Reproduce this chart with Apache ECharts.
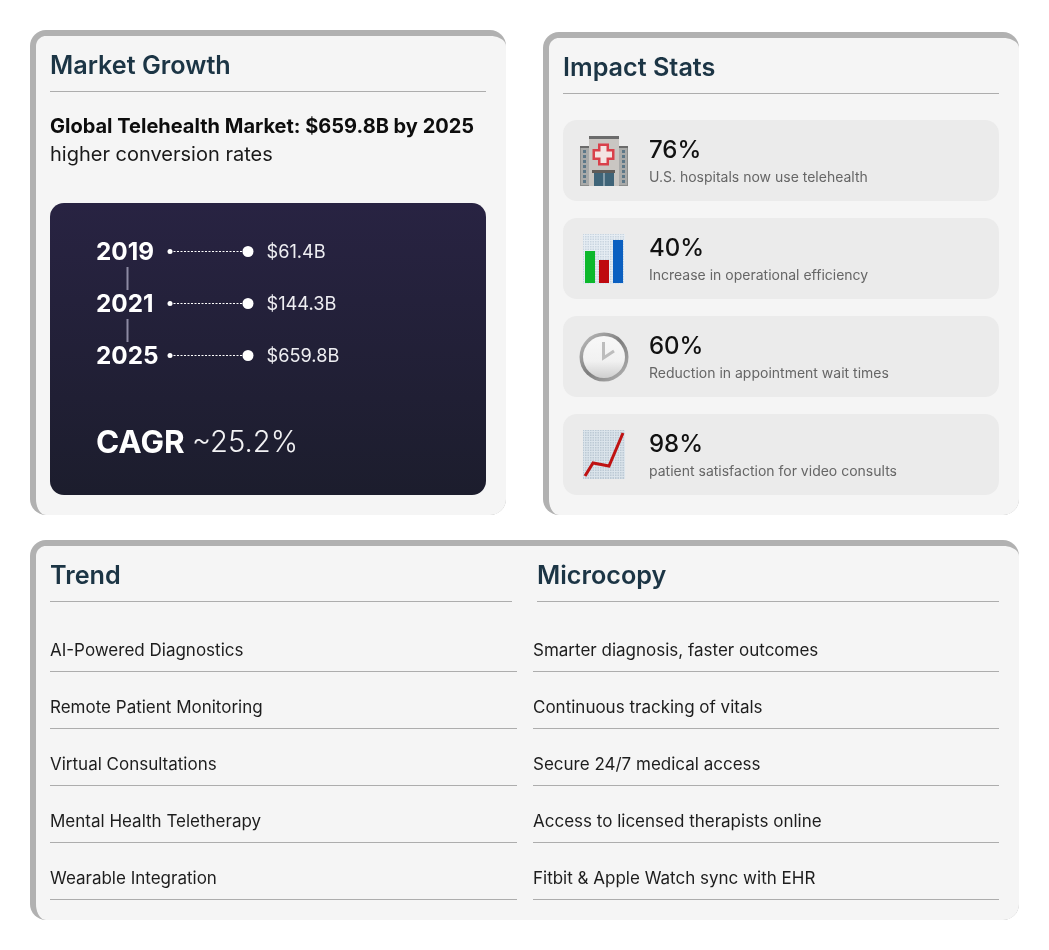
<!DOCTYPE html>
<html>
<head>
<meta charset="utf-8">
<style>html,body{margin:0;padding:0;background:#fff}#chart{width:1049px;height:950px}</style>
<script src="https://cdn.jsdelivr.net/npm/echarts@6/dist/echarts.min.js"></script>
</head>
<body>
<div id="chart"></div>
<script>
const marketTitle = 'Market Growth';
const marketHeadline = 'Global Telehealth Market: $659.8B by 2025';
const marketSubline = 'higher conversion rates';
const years = ['2019', '2021', '2025'];
const marketValues = [61.4, 144.3, 659.8];
const cagrLabel = 'CAGR';
const cagrValue = '~25.2%';
const statsTitle = 'Impact Stats';
const statPercents = ['76%', '40%', '60%', '98%'];
const statLabels = ['U.S. hospitals now use telehealth', 'Increase in operational efficiency', 'Reduction in appointment wait times', 'patient satisfaction for video consults'];
const trendTitle = 'Trend';
const microTitle = 'Microcopy';
const trends = ['AI-Powered Diagnostics', 'Remote Patient Monitoring', 'Virtual Consultations', 'Mental Health Teletherapy', 'Wearable Integration'];
const microcopy = ['Smarter diagnosis, faster outcomes', 'Continuous tracking of vitals', 'Secure 24/7 medical access', 'Access to licensed therapists online', 'Fitbit & Apple Watch sync with EHR'];

const FONT = 'Inter';
const els = [];
const rect = (x, y, w, h, fill, r) => els.push({type: 'rect', shape: {x, y, width: w, height: h, r: r || 0}, style: {fill}, silent: true});
const hline = (x1, x2, y, stroke, lw) => els.push({type: 'line', shape: {x1, y1: y, x2, y2: y}, style: {stroke: stroke || '#adadad', lineWidth: lw || 1}, silent: true});
const text = (x, y, t, size, weight, fill) => els.push({type: 'text', x, y, silent: true, style: {text: t, fontFamily: FONT, fontSize: size, fontWeight: weight, fill, textVerticalAlign: 'middle', textAlign: 'left'}});

function corner(pts, cx, cy, rx, ry, a0, a1) {
  for (let i = 0; i <= 10; i++) {
    const a = (a0 + (a1 - a0) * i / 10) * Math.PI / 180;
    pts.push([cx + rx * Math.cos(a), cy + ry * Math.sin(a)]);
  }
}
function card(x, y, w, h) {
  rect(x, y, w, h, '#b1b1b1', 16);
  const pts = [];
  const L = x + 6, T = y + 6, R = x + w, B = y + h;
  corner(pts, L + 10, T + 10, 10, 10, 180, 270);
  corner(pts, R - 16, T + 10, 16, 10, 270, 360);
  corner(pts, R - 16, B - 16, 16, 16, 0, 90);
  corner(pts, L + 10, B - 16, 10, 16, 90, 180);
  els.push({type: 'polygon', shape: {points: pts}, style: {fill: '#f5f5f5'}, silent: true});
}

// Cards
card(30, 30, 476, 485);
card(543, 32, 476, 483);
card(30, 540, 989, 380);

// Market Growth
const TITLE = '#1c3545';
text(50, 66.5, marketTitle, 25.2, 600, TITLE);
hline(50, 486, 91.5);
text(50, 127, marketHeadline, 20, 700, '#0d0d0d');
text(50, 155, marketSubline, 20, 400, '#1a1a1a');
els.push({type: 'rect', shape: {x: 50, y: 203, width: 436, height: 292, r: 14}, silent: true,
  style: {fill: new echarts.graphic.LinearGradient(0, 0, 0, 1, [{offset: 0, color: '#282342'}, {offset: 1, color: '#1c1d2d'}])}});
[[267, 290], [319, 342]].forEach(([a, b]) => els.push({type: 'line', shape: {x1: 127.5, y1: a, x2: 127.5, y2: b}, style: {stroke: '#8d8aa3', lineWidth: 2}, silent: true, z: 1}));
text(96, 443.5, cagrLabel, 31.4, 700, '#ffffff');
text(192, 443.5, cagrValue, 29.2, 300, '#f2f2f4');

// Impact Stats
text(563, 68.5, statsTitle, 25.2, 600, TITLE);
hline(563, 999, 93.5);
const statTops = [120, 218, 316, 414];
statPercents.forEach((p, i) => {
  const t = statTops[i];
  rect(563, t, 436, 81, '#ebebeb', 14);
  text(649, t + 31, p, 24, 500, '#111');
  text(649, t + 57.5, statLabels[i], 14, 400, '#666');
});

function gridPad(x, y, w, h, base, lines) {
  rect(x, y, w, h, base);
  for (let a = x + 1.5; a < x + w; a += 2.5) els.push({type: 'line', shape: {x1: a, y1: y, x2: a, y2: y + h}, style: {stroke: lines, lineWidth: 1}, silent: true});
  for (let b = y + 1.5; b < y + h; b += 2.5) els.push({type: 'line', shape: {x1: x, y1: b, x2: x + w, y2: b}, style: {stroke: lines, lineWidth: 1}, silent: true});
}
// hospital icon
rect(580, 146, 48, 40, '#8b8d8c');
rect(581, 148, 8, 37, '#a9aaa9');
rect(619, 148, 8, 37, '#a9aaa9');
rect(589, 137, 30, 49, '#c9c6c2');
rect(589, 136, 30, 3, '#6b6b6b');
rect(580, 146, 9, 2, '#6b6b6b');
rect(619, 146, 9, 2, '#6b6b6b');
[150, 155, 160, 165, 170, 175, 180].forEach(y => { rect(583, y, 3, 3, '#5d7888'); rect(622, y, 3, 3, '#5d7888'); });
rect(598, 143.5, 11, 22, '#d9404a'); rect(592.5, 149, 22, 11, '#d9404a');
rect(600.5, 146, 6, 17, '#f3e4e2'); rect(595, 151.5, 17, 6, '#f3e4e2');
rect(592, 170, 23, 3, '#5f5b58');
rect(594, 173, 20, 13, '#3f6478');
rect(603.5, 173, 1, 13, '#c9d4da');
// bar chart icon
gridPad(583, 234, 42, 50, '#c9d5e0', '#e6edf3');
rect(585, 251, 10, 32, '#0db82c');
rect(599, 260, 10, 23, '#bf0a0f');
rect(613, 240, 10, 43, '#0b5fc0');
// clock icon
els.push({type: 'circle', shape: {cx: 604, cy: 357, r: 24.5}, silent: true, style: {fill: new echarts.graphic.LinearGradient(0, 0, 1, 1, [{offset: 0, color: '#c4c4c4'}, {offset: .5, color: '#7d7d7d'}, {offset: 1, color: '#b8b8b8'}])}});
els.push({type: 'circle', shape: {cx: 604, cy: 357, r: 21}, silent: true, style: {fill: new echarts.graphic.LinearGradient(0, 0, 0, 1, [{offset: 0, color: '#f8f8f8'}, {offset: .6, color: '#f1f1f1'}, {offset: 1, color: '#cfcfcf'}])}});
els.push({type: 'polyline', shape: {points: [[603.5, 342], [603.5, 358], [614, 351]]}, silent: true, style: {fill: null, stroke: '#bdbdbd', lineWidth: 3}});
// trend icon
gridPad(583, 430, 42, 49, '#bcc9d4', '#dbe4eb');
els.push({type: 'polyline', shape: {points: [[585, 476], [593, 463], [609, 466], [623, 433]]}, silent: true, style: {fill: null, stroke: '#bf1212', lineWidth: 3}});

// Trend + Microcopy
text(50, 576.5, trendTitle, 25.2, 600, TITLE);
hline(50, 512, 601.5);
text(537, 576.5, microTitle, 25.2, 600, TITLE);
hline(537, 999, 601.5);
const rowTops = [651, 708, 765, 822, 879];
trends.forEach((t, i) => {
  const y = rowTops[i];
  text(50, y, t, 17, 400, '#1d1d1d');
  hline(50, 517, y + 20.5);
  text(533, y, microcopy[i], 17, 400, '#1d1d1d');
  hline(533, 999, y + 20.5);
});

const timelineSeries = years.map((year, i) => ({
  type: 'line',
  data: [
    {value: [0, year], symbolSize: 5, label: {
      show: true, position: [-71.5, 4], align: 'left', verticalAlign: 'middle', formatter: year,
      color: '#ffffff', fontFamily: FONT, fontSize: 24.3, fontWeight: 700
    }},
    {value: [1, year], symbolSize: 11, label: {
      show: true, position: 'right', distance: 13, offset: [0, 1], formatter: '$' + marketValues[i].toFixed(1) + 'B',
      color: '#eeeef2', fontFamily: FONT, fontSize: 18.2, fontWeight: 400
    }}
  ],
  symbol: 'circle',
  showSymbol: true,
  lineStyle: {color: '#ffffff', width: 1, type: [2, 1.5]},
  itemStyle: {color: '#ffffff'},
  silent: true,
  animation: false
}));

const chart = echarts.init(document.getElementById('chart'), null, {renderer: 'canvas', width: 1049, height: 950});
chart.setOption({
  animation: false,
  backgroundColor: '#ffffff',
  tooltip: {show: false},
  graphic: {elements: els},
  grid: {left: 170, top: 225.5, width: 78, height: 156, containLabel: false},
  xAxis: {type: 'value', min: 0, max: 1, show: false},
  yAxis: {
    type: 'category', data: years, inverse: true,
    axisLine: {show: false}, axisTick: {show: false}, splitLine: {show: false},
    axisLabel: {show: false}
  },
  series: timelineSeries
});
</script>
</body>
</html>
